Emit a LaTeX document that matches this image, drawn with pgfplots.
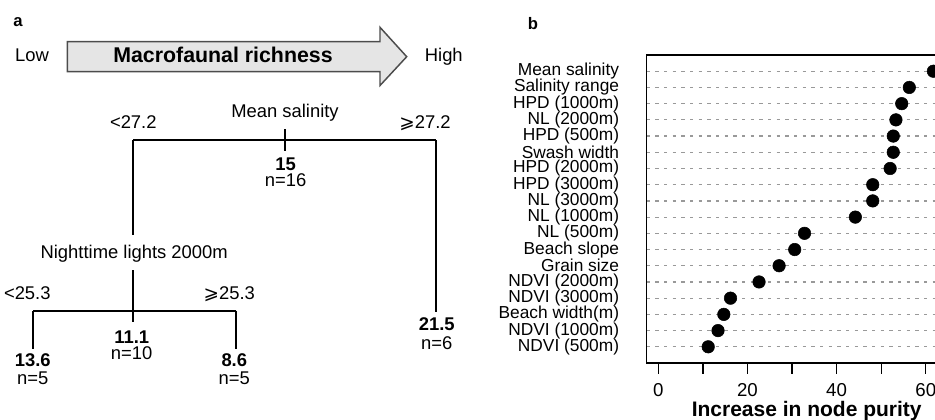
\documentclass[border=0pt]{standalone}
\usepackage{pgfplots}
\pgfplotsset{compat=1.18}
\usepackage{fontspec}
\setmainfont{Liberation Sans}
\newfontfamily\symfont{DejaVu Sans}

% tree panel text sizes
\newcommand{\treefont}{\fontsize{13.8}{15}\selectfont}
\newcommand{\sgeq}{{\symfont ⩾}}

\begin{document}
\begin{tikzpicture}
\path[use as bounding box, clip] (0pt,0pt) rectangle (701.25pt,-314.25pt);

% ---- panel a: regression tree drawn on a pixel-unit canvas ----
\begin{axis}[
  at={(0pt,0pt)}, anchor=north west,
  width=701.25pt, height=314.25pt, scale only axis,
  xmin=0, xmax=935, ymin=0, ymax=419, y dir=reverse,
  hide axis, clip=false]

% panel letters
\node[anchor=base, font=\fontsize{12.5}{13}\selectfont\bfseries] at (axis cs:18,26.7) {a};
\node[anchor=base, font=\fontsize{12.5}{13}\selectfont\bfseries] at (axis cs:533,29.3) {b};

% richness arrow
\draw[draw=black!70, line width=1.1pt, fill=black!10]
  (axis cs:67.3,41.7) -- (axis cs:380,41.7) -- (axis cs:380,27.3)
  -- (axis cs:406.7,56.7) -- (axis cs:380,85.5) -- (axis cs:380,71.7)
  -- (axis cs:67.3,71.7) -- cycle;
\node[anchor=base, font=\fontsize{16}{17}\selectfont\bfseries] at (axis cs:223,62.7) {Macrofaunal richness};
\node[anchor=base, font=\treefont] at (axis cs:32,61.7) {Low};
\node[anchor=base, font=\treefont] at (axis cs:443.8,61.7) {High};

% tree branches
\begin{scope}[line width=1.5pt]
\draw (axis cs:133.3,140) -- (axis cs:436,140);
\draw (axis cs:285,129) -- (axis cs:285,151);
\draw (axis cs:133.3,140) -- (axis cs:133.3,235);
\draw (axis cs:436,140) -- (axis cs:436,311.7);
\draw (axis cs:133.3,270) -- (axis cs:133.3,321.7);
\draw (axis cs:33.3,310.7) -- (axis cs:236,310.7);
\draw (axis cs:33.3,310.7) -- (axis cs:33.3,349.3);
\draw (axis cs:236,310.7) -- (axis cs:236,349.3);
\end{scope}

% split labels and node values
\begin{scope}[every node/.style={anchor=base, font=\treefont, inner sep=0pt}]
\node at (axis cs:285,117.3) {Mean salinity};
\node at (axis cs:133.3,128.3) {<27.2};
\node at (axis cs:425,128.3) {\sgeq27.2};
\node at (axis cs:285.7,170) {\bfseries 15};
\node at (axis cs:285.7,186.7) {n=16};
\node at (axis cs:134.2,258.3) {Nighttime lights 2000m};
\node at (axis cs:27.3,299.3) {<25.3};
\node at (axis cs:229.3,299.3) {\sgeq25.3};
\node at (axis cs:131.7,343.3) {\bfseries 11.1};
\node at (axis cs:131.7,359.3) {n=10};
\node at (axis cs:32.7,366) {\bfseries 13.6};
\node at (axis cs:32.7,384) {n=5};
\node at (axis cs:234.3,366) {\bfseries 8.6};
\node at (axis cs:234.3,384) {n=5};
\node at (axis cs:436.7,330) {\bfseries 21.5};
\node at (axis cs:436.7,349.3) {n=6};
\end{scope}

\node[anchor=base, font=\fontsize{15.75}{17}\selectfont\bfseries] at (axis cs:806.7,416.7) {Increase in node purity};
\end{axis}

% ---- panel b: variable importance dot chart ----
\begin{axis}[
  at={(485pt,-41.25pt)}, anchor=north west,
  width=223.4pt, height=231pt, scale only axis,
  xmin=-2.6, xmax=64.2, ymin=0, ymax=19,
  axis line style={line width=1pt},
  xtick={0,10,...,60}, xticklabels={0,,20,,40,,60},
  xtick pos=bottom, tick align=outside,
  major tick length=8pt,
  x tick style={line width=1pt, black},
  ytick={1,...,18},
  yticklabels={NDVI (500m),NDVI (1000m),Beach width(m),NDVI (3000m),NDVI (2000m),
    Grain size,Beach slope,NL (500m),NL (1000m),NL (3000m),HPD (3000m),HPD (2000m),
    Swash width,HPD (500m),NL (2000m),HPD (1000m),Salinity range,Mean salinity},
  y tick style={draw=none},
  ymajorgrids,
  major grid style={black!40, line width=0.9pt, dash pattern=on 2.5pt off 4pt},
  /pgf/number format/assume math mode=true,
  xticklabel style={font=\fontsize{14}{15}\selectfont, yshift=-4pt},
  yticklabel style={font=\fontsize{13}{11.5}\selectfont, anchor=east, inner sep=0pt, xshift=-12.5pt},
]
\addplot[only marks, mark=*, mark size=4.7pt, black] coordinates {
  (11.2,1) (13.4,2) (14.7,3) (16.2,4) (22.6,5) (27.1,6) (30.6,7) (32.8,8)
  (44.2,9) (48.1,10) (48.1,11) (52.0,12) (52.7,13) (52.7,14) (53.3,15)
  (54.6,16) (56.3,17) (61.7,18)
};
\end{axis}
\end{tikzpicture}
\end{document}
